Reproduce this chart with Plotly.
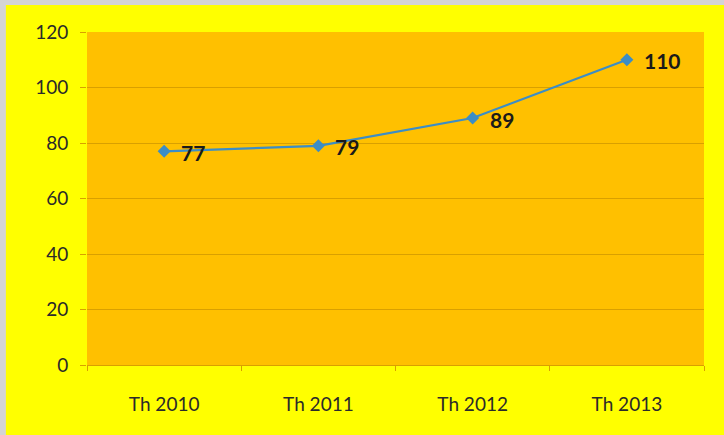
import plotly.graph_objects as go

categories = ["Th 2010", "Th 2011", "Th 2012", "Th 2013"]
values = [77, 79, 89, 110]
y_ticks = [0, 20, 40, 60, 80, 100, 120]

FONT = "Lato, Liberation Sans, sans-serif"

fig = go.Figure()
fig.add_trace(go.Scatter(
    x=categories,
    y=values,
    mode="lines+markers",
    line=dict(color="#3C8DC6", width=2.2),
    marker=dict(symbol="diamond", size=10, color="#3C8DC6"),
    showlegend=False,
))

# value labels to the right of each point
for cat, val in zip(categories, values):
    fig.add_annotation(
        x=cat, y=val, text=f"<b>{val}</b>",
        showarrow=False, xanchor="left", yanchor="middle",
        xshift=15, yshift=-1,
        font=dict(family=FONT, size=21, color="#1a1a1a"),
    )

# light grey frame along the top and left edges
fig.add_shape(type="rect", xref="paper", yref="paper",
              x0=-0.15, x1=1.1, y0=1.081, y1=1.2,
              fillcolor="#D4D4D4", line_width=0, layer="below")
fig.add_shape(type="rect", xref="paper", yref="paper",
              x0=-0.15, x1=-0.1315, y0=-0.3, y1=1.2,
              fillcolor="#D4D4D4", line_width=0, layer="below")

fig.update_layout(
    width=724, height=435,
    margin=dict(l=87, r=20, t=32, b=70),
    paper_bgcolor="#FFFF00",
    plot_bgcolor="#FFC000",
    font=dict(family=FONT, size=18, color="#2a2a2a"),
)
fig.update_xaxes(
    type="category",
    range=[-0.5, 3.5],
    showgrid=False,
    ticks="outside", ticklen=5, tickcolor="#D9A000", tickson="boundaries",
    showline=True, linecolor="#D9A000", linewidth=1,
    ticklabelstandoff=22,
    tickfont=dict(size=19, color="#2a2a2a"),
)
fig.update_yaxes(
    range=[0, 120],
    tickvals=y_ticks,
    showgrid=True, gridcolor="#D9A000", gridwidth=1,
    zeroline=False,
    ticks="outside", ticklen=6, tickcolor="#D9A000",
    ticklabelstandoff=8,
    tickfont=dict(size=19, color="#2a2a2a"),
)

fig.write_html("out.html")
